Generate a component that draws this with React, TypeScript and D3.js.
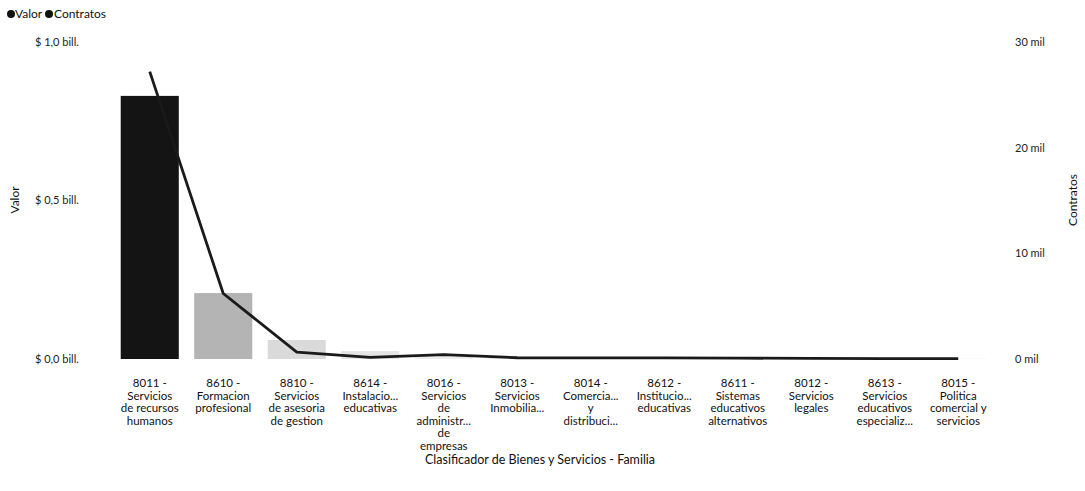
import React from "react";
import * as d3 from "d3";

const categories = [
  "8011 -|Servicios|de recursos|humanos",
  "8610 -|Formacion|profesional",
  "8810 -|Servicios|de asesoria|de gestion",
  "8614 -|Instalacio...|educativas",
  "8016 -|Servicios|de|administr...|de|empresas",
  "8013 -|Servicios|Inmobilia...",
  "8014 -|Comercia...|y|distribuci...",
  "8612 -|Institucio...|educativas",
  "8611 -|Sistemas|educativos|alternativos",
  "8012 -|Servicios|legales",
  "8613 -|Servicios|educativos|especializ...",
  "8015 -|Politica|comercial y|servicios",
];
const valor = [0.83, 0.208, 0.06, 0.025, 0.012, 0.006, 0.005, 0.004, 0.003, 0.002, 0.002, 0.001];
const contratos = [27.2, 6.2, 0.65, 0.15, 0.42, 0.12, 0.1, 0.1, 0.08, 0.06, 0.04, 0.03];
const barColors = ["#141414", "#b4b4b4", "#dadada", "#e4e4e4", "#ececec", "#eeeeee", "#eeeeee", "#eeeeee", "#eeeeee", "#eeeeee", "#eeeeee", "#eeeeee"];
const leftTicks = [0, 0.5, 1.0];
const leftTickLabels = ["$ 0,0 bill.", "$ 0,5 bill.", "$ 1,0 bill."];
const rightTicks = [0, 10, 20, 30];
const rightTickLabels = ["0 mil", "10 mil", "20 mil", "30 mil"];

const W = 1085;
const H = 491;
const FONT = "Lato, 'Open Sans', sans-serif";

export default function App() {
  const x = d3.scaleBand<number>().domain(d3.range(categories.length)).range([113, 995]).paddingInner(0.21).paddingOuter(0.105);
  const yL = d3.scaleLinear().domain([0, 1.0]).range([359, 42]);
  const yR = d3.scaleLinear().domain([0, 30]).range([359, 42]);
  const line = d3
    .line<number>()
    .x((_, i) => (x(i) as number) + x.bandwidth() / 2)
    .y((d) => yR(d));

  return (
    <svg width={W} height={H} style={{ position: "absolute", left: 0, top: 0, background: "#fff" }} fontFamily={FONT}>
      {/* legend */}
      <g fontSize={12} fill="#111">
        <circle cx={11} cy={14} r={4} fill="#111" />
        <text x={15} y={18}>Valor</text>
        <circle cx={49} cy={14} r={4} fill="#111" />
        <text x={54} y={18}>Contratos</text>
      </g>
      {/* left axis labels */}
      <g fontSize={11} fill="#222">
        {leftTicks.map((t, i) => (
          <text key={i} x={35} y={yL(t)} dy="0.35em">{leftTickLabels[i]}</text>
        ))}
      </g>
      <text transform={`translate(19,200) rotate(-90)`} textAnchor="middle" fontSize={12} fill="#111">Valor</text>
      {/* right axis labels */}
      <g fontSize={11} fill="#222">
        {rightTicks.map((t, i) => (
          <text key={i} x={1015} y={yR(t)} dy="0.35em">{rightTickLabels[i]}</text>
        ))}
      </g>
      <text transform={`translate(1077,200) rotate(-90)`} textAnchor="middle" fontSize={12} fill="#111">Contratos</text>
      {/* bars */}
      <g>
        {valor.map((v, i) => (
          <rect key={i} x={x(i)} y={yL(v)} width={x.bandwidth()} height={yL(0) - yL(v)} fill={barColors[i]} />
        ))}
      </g>
      {/* line */}
      <path d={line(contratos) || ""} fill="none" stroke="#1a1a1a" strokeWidth={2.8} strokeLinejoin="round" />
      {/* category labels */}
      <g fontSize={11.5} fill="#111" textAnchor="middle">
        {categories.map((c, i) => (
          <text key={i} x={(x(i) as number) + x.bandwidth() / 2} y={387}>
            {c.split("|").map((l, j) => (
              <tspan key={j} x={(x(i) as number) + x.bandwidth() / 2} dy={j === 0 ? 0 : 12.6}>{l}</tspan>
            ))}
          </text>
        ))}
      </g>
      <text x={540} y={464} textAnchor="middle" fontSize={12.5} fill="#111">Clasificador de Bienes y Servicios - Familia</text>
    </svg>
  );
}
